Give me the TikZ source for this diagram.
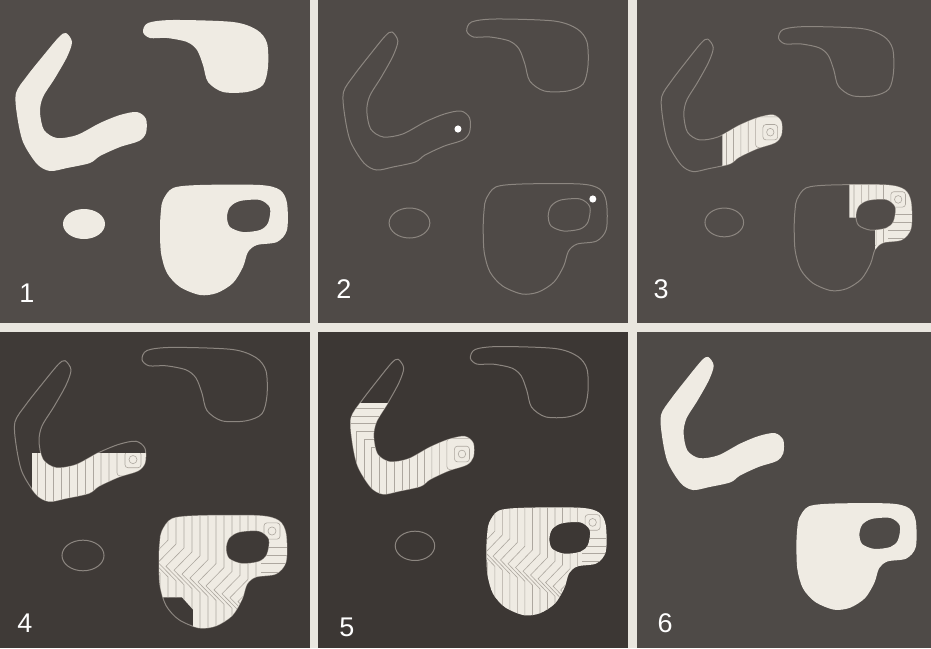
\documentclass[tikz,border=0pt]{standalone}
\usepackage{fontspec}
\newfontfamily\numfont{Liberation Sans}

\definecolor{sepline}{HTML}{E9E6DF}
\definecolor{cream}{HTML}{EFEBE3}
\definecolor{edgegray}{HTML}{8C8680}
\definecolor{hatchgray}{HTML}{ADA79F}
\definecolor{darktop}{HTML}{514C49}
\definecolor{darkbot}{HTML}{3F3A37}

% outlines of the four blobs, in the coordinates of panel 1
\newcommand{\boompath}{plot[smooth cycle] coordinates {(66,33) (72,42) (67,57) (55,78) (43,97) (40,112) (44,130) (57,138) (77,135) (100,123) (120,115) (137,112) (146,119) (146,133) (139,141) (120,147) (100,156) (90,163) (67,168) (50,171) (37,164) (23,142) (17,115) (16,93) (27,76) (43,56) (59,37)}}
\newcommand{\hookpath}{plot[smooth cycle] coordinates {(143,32) (148,23) (173,20) (233,22) (257,30) (267,43) (268,67) (263,85) (247,92) (223,92) (208,82) (203,65) (197,50) (187,42) (167,38) (150,38)}}
\newcommand{\eggpath}{(84,224) ellipse [x radius=21, y radius=15]}
\newcommand{\ppath}{plot[smooth cycle] coordinates {(163,200) (173,188) (200,185) (260,185) (280,190) (287,203) (287,230) (277,242) (257,245) (248,252) (243,267) (233,283) (217,293) (200,295) (180,287) (167,273) (161,253) (160,227) (161,210)}}
\newcommand{\holepath}{plot[smooth cycle] coordinates {(230,207) (240,201) (260,200) (270,208) (268,223) (260,230) (243,232) (230,227) (227,217)}}

% fill fronts around the two seeds
\newcommand{\boomlines}{%
  \draw[lin] (134,130) circle[radius=4];
  \foreach \k in {1,...,4}{\draw[lin,rounded corners=3] ({134-8*\k},{130-8*\k}) rectangle ({134+8*\k},{130+8*\k});}
  \foreach \k in {5,...,10}{\draw[lin] ({134-8*\k},100) -- ({134-8*\k},180);}
  \foreach \k in {11,...,17}{\draw[lin] ({134-8*\k},180) -- ({134-8*\k},{219-8*\k}) -- (75,{219-8*\k});}
}
\newcommand{\plines}{%
  \draw[lin] (273,200) circle[radius=4];
  \draw[lin,rounded corners=3] (265,192) rectangle (281,208);
  \foreach \d in {16,24,32,40}{\draw[lin] (262,{200+\d}) -- (300,{200+\d});}
  \foreach \k in {2,...,16}{
    \pgfmathsetmacro{\xk}{273-8*\k}
    \pgfmathsetmacro{\yk}{220+(\xk-192)*0.48}
    \draw[lin] (\xk,180) -- (\xk,\yk) -- (\xk-18,\yk+18) -- (\xk,\yk+36) -- (\xk,320);}
}

\begin{document}
\begin{tikzpicture}[x=1pt,y=-1pt, blob/.style={fill=cream}, outl/.style={draw=edgegray,line width=1pt}, lin/.style={draw=hatchgray,line width=.6pt}, seed/.style={fill=white}, num/.style={text=white,inner sep=0pt,font=\numfont\fontsize{27}{27}\selectfont}]
\useasboundingbox (0,0) rectangle (931,648);
\fill[sepline] (0,0) rectangle (931,648);
\fill[darktop] (0,0) rectangle (310,323);
\fill[darktop!97!black] (318,0) rectangle (628,323);
\fill[darktop] (637,0) rectangle (931,323);
\fill[darkbot] (0,332) rectangle (310,648);
\fill[darkbot!95!black] (318,332) rectangle (628,648);
\fill[darkbot!92!white] (637,332) rectangle (931,648);

% 1
\begin{scope}
  \fill[blob] \boompath; \fill[blob] \hookpath; \fill[blob] \eggpath;
  \fill[blob,even odd rule] \ppath \holepath;
\end{scope}
% 2
\begin{scope}[shift={(328,-1)},xscale=.97]
  \draw[outl] \boompath; \draw[outl] \hookpath; \draw[outl] \eggpath;
  \draw[outl] \ppath; \draw[outl] \holepath;
  \fill[seed] (134,130) circle[radius=3.6];
  \fill[seed] (273,200) circle[radius=3.6];
\end{scope}
% 3
\begin{scope}[shift={(647,7.4)},xscale=.92,yscale=.96]
  \draw[outl] \boompath; \draw[outl] \hookpath; \draw[outl] \eggpath;
  \draw[outl] \ppath; \draw[outl] \holepath;
  \begin{scope}
    \clip (82,0) rectangle (200,200);
    \clip \boompath;
    \fill[blob] (0,0) rectangle (200,200);
    \boomlines
  \end{scope}
  \begin{scope}[even odd rule]
    \clip (220,150) -- (300,150) -- (300,320) -- (248,320) -- (248,219) -- (220,219) -- cycle;
    \clip \ppath \holepath;
    \fill[blob] (150,150) rectangle (300,320);
    \plines
  \end{scope}
\end{scope}
% 4
\begin{scope}[shift={(-1,327)},yscale=1.02]
  \draw[outl] \boompath; \draw[outl] \hookpath; \draw[outl] \eggpath;
  \draw[outl] \ppath; \draw[outl] \holepath;
  \begin{scope}
    \clip (33,124) rectangle (200,200);
    \clip \boompath;
    \fill[blob] (0,0) rectangle (200,200);
    \boomlines
  \end{scope}
  \begin{scope}[even odd rule]
    \clip (150,150) -- (300,150) -- (300,320) -- (194,320) -- (194,277) -- (183,265) -- (150,265) -- cycle;
    \clip \ppath \holepath;
    \fill[blob] (150,150) rectangle (300,320);
    \plines
  \end{scope}
\end{scope}
% 5
\begin{scope}[shift={(336,327)},xscale=.94,yscale=.977]
  \draw[outl] \boompath; \draw[outl] \hookpath; \draw[outl] \eggpath;
  \begin{scope}
    \clip (0,78) rectangle (200,200);
    \clip \boompath;
    \fill[blob] (0,0) rectangle (200,200);
    \boomlines
  \end{scope}
  \begin{scope}[even odd rule]
    \clip \ppath \holepath;
    \fill[blob] (150,150) rectangle (300,320);
    \plines
  \end{scope}
\end{scope}
% 6
\begin{scope}[shift={(646,325)},xscale=.94,yscale=.965]
  \fill[blob] \boompath;
  \fill[blob,even odd rule] \ppath \holepath;
\end{scope}

\node[num] (n1) at (27,293) {1};
\node[num] (n2) at (344,289) {2};
\node[num] (n3) at (661,289) {3};
\node[num] (n4) at (25,623) {4};
\node[num] (n5) at (347,627) {5};
\node[num] (n6) at (665,623) {6};
\end{tikzpicture}
\end{document}
